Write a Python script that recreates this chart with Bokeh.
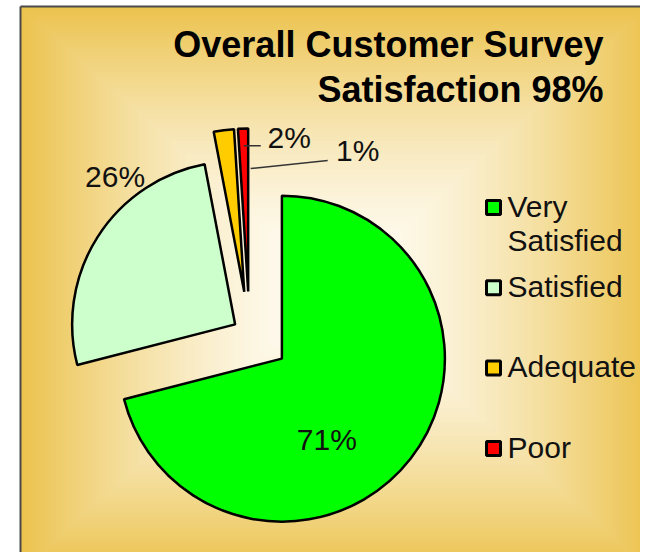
import numpy as np
from bokeh.plotting import figure
from bokeh.models import Range1d, ColumnDataSource
from bokeh.core.properties import value
from bokeh.embed import file_html
from bokeh.resources import INLINE

# ---------------- data ----------------
categories = ["Very Satisfied", "Satisfied", "Adequate", "Poor"]
legend_lines = [["Very", "Satisfied"], ["Satisfied"], ["Adequate"], ["Poor"]]
percent = [71, 26, 2, 1]
colors = ["#00FF00", "#CCFFCC", "#FFCC00", "#FF0000"]
title_lines = ["Overall Customer Survey", "Satisfaction 98%"]

# ---------------- layout / style ----------------
W, H = 640, 552
FONT = "Liberation Sans"
OFF = 0  # picture offset of figure


def X(xp):
    return xp - OFF


def Y(yp):
    """picture y (pixels from top) -> data y"""
    return H - (yp - OFF)


def TB(yp, size):
    """baseline correction for svg text"""
    return Y(yp - 0.34 * size)


p = figure(width=W, height=H, x_range=Range1d(0, W), y_range=Range1d(0, H),
           output_backend="svg", toolbar_location=None, min_border=0)
p.axis.visible = False
p.grid.visible = False
p.outline_line_color = None
p.background_fill_color = "white"
p.border_fill_color = "white"

# background: rectangular "from centre" gradient gold -> near white
gold = np.array([236, 195, 78])
light = np.array([255, 253, 246])
gcx, gcy = 335, 288      # picture coords of gradient centre
ghw, ghh = 315, 282      # half sizes
N = 80
L, R_, T, B, C = [], [], [], [], []
for k in range(N):
    t = 1 - k / N
    L.append(X(gcx - ghw * t))
    R_.append(X(gcx + ghw * t))
    T.append(Y(gcy - ghh * t))
    B.append(Y(gcy + ghh * t))
    c = (light + (gold - light) * t ** 1.6).astype(int)
    C.append("#%02x%02x%02x" % tuple(c))
p.quad(left=L, right=R_, top=T, bottom=B, fill_color=C, line_color=None)

# chart-area border (left and top)
p.segment(x0=[X(20), X(20)], y0=[Y(6), Y(6)], x1=[X(20), X(660)], y1=[Y(580), Y(6)],
          line_color="#4a4a4a", line_width=2)

# ---------------- pie ----------------
pie_cx, pie_cy = X(249), Y(333)
radius = 163
explode = np.array([41, 17, 42, 42])
cum = np.cumsum([0] + percent)
start = np.pi / 2 - 2 * np.pi * cum[:-1] / 100
end = np.pi / 2 - 2 * np.pi * cum[1:] / 100
mid = (start + end) / 2
sx = pie_cx + explode * np.cos(mid)
sy = pie_cy + explode * np.sin(mid)

src = ColumnDataSource(dict(x=sx, y=sy, start=start, end=end, color=colors))
p.wedge(x="x", y="y", radius=radius, start_angle="start", end_angle="end",
        direction="clock", fill_color="color", line_color="black",
        line_width=2.5, source=src)

# data labels (offset from each slice's vertex, in pixels; x right, y down)
LAB_SIZE = 30
lab_dx = [45, -120, 45, 109.5]
lab_dy = [91, -138, -144, -131]
lx = sx + np.array(lab_dx)
ly = sy - np.array(lab_dy)
p.text(x=lx, y=ly + 0.34 * LAB_SIZE, text=[f"{v}%" for v in percent],
       text_font=value(FONT), text_font_size=f"{LAB_SIZE}px", text_color="#111111",
       text_align="center", text_baseline="alphabetic")

# leader lines for the small slices
lead_from = {2: (-0.5, -146), 3: (2.5, -123)}     # offset from slice vertex
lead_to = {2: (-28.5, -2), 3: (-30, 0)}           # offset from label anchor
x0, y0, x1, y1 = [], [], [], []
for i in lead_from:
    x0.append(sx[i] + lead_from[i][0]); y0.append(sy[i] - lead_from[i][1])
    x1.append(lx[i] + lead_to[i][0]); y1.append(ly[i] - lead_to[i][1])
p.segment(x0=x0, y0=y0, x1=x1, y1=y1, line_color="#333333", line_width=1.5)

# ---------------- title ----------------
TSIZE = 36
p.text(x=[X(603), X(603)], y=[TB(56, TSIZE), TB(101, TSIZE)], text=title_lines,
       text_font=value(FONT), text_font_size=f"{TSIZE}px", text_font_style="bold",
       text_color="black", text_align="right", text_baseline="alphabetic")

# ---------------- legend ----------------
LSIZE = 30
leg_x, leg_y0, leg_step = 493, 207, 80.3
mk_y = [Y(leg_y0 + leg_step * i) for i in range(len(categories))]
p.rect(x=[X(leg_x)] * len(categories), y=mk_y, width=14, height=14,
       fill_color=colors, line_color="black", line_width=3)
tx, ty, tt = [], [], []
for i, lines in enumerate(legend_lines):
    for j, s in enumerate(lines):
        tx.append(X(leg_x + 14))
        ty.append(TB(leg_y0 + leg_step * i + 9 + 34 * j, LSIZE))
        tt.append(s)
p.text(x=tx, y=ty, text=tt, text_font=value(FONT), text_font_size=f"{LSIZE}px",
       text_color="#111111", text_align="left", text_baseline="alphabetic")

open("out.html", "w").write(file_html(p, INLINE))
